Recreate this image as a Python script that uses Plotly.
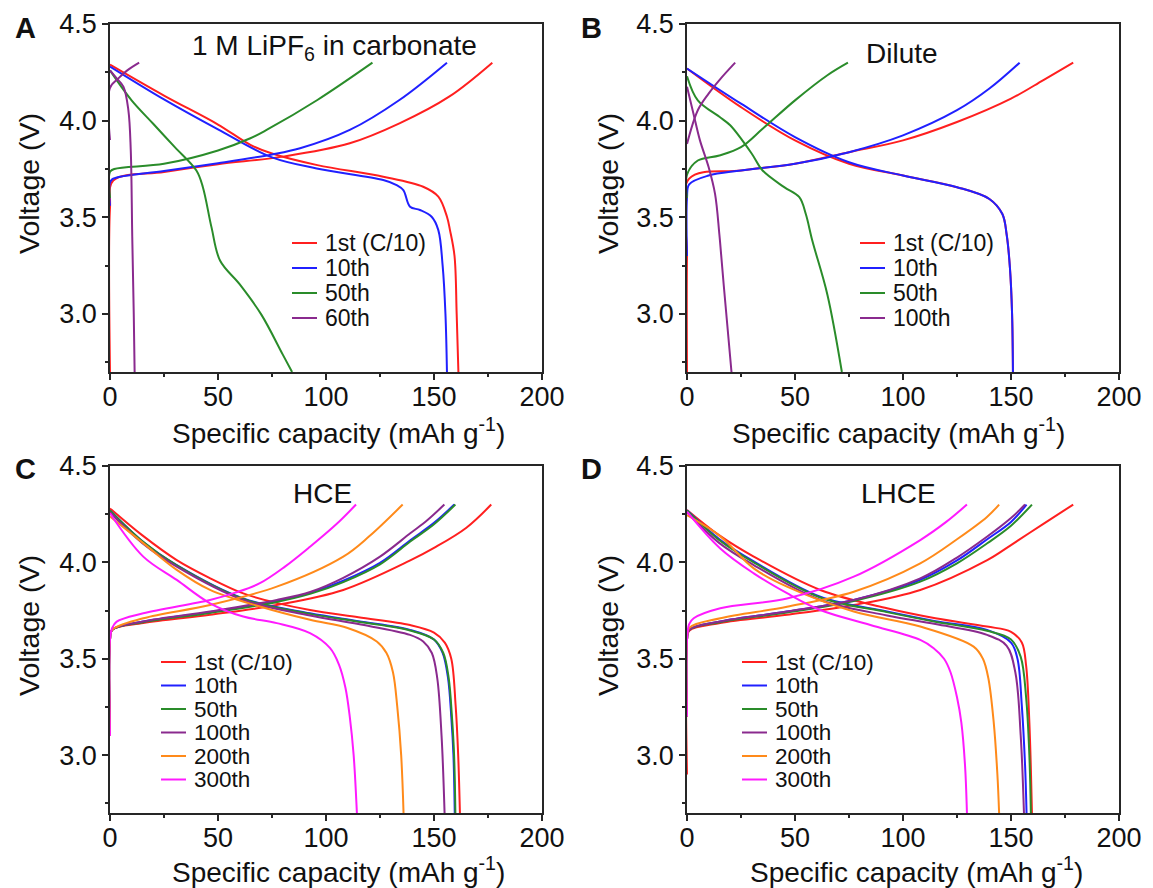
import plotly.graph_objects as go

# the page body has an 8 px margin, so the figure is drawn 8 px in from the corner
W, H = 1145, 880
OFF = 8
FONT = "Arial, Liberation Sans, sans-serif"

COLORS = ["#ff1f1f", "#2020ff", "#2a8c2a", "#8a2a8e", "#ff8a1a", "#ff1aff"]

X_TITLE = "Specific capacity (mAh g<sup>-1</sup>)"
Y_TITLE = "Voltage (V)"

# ---- panel A: 1 M LiPF6 in carbonate ----
A_LABELS = ["1st (C/10)", "10th", "50th", "60th"]
A_CHG_CAP = [
    [0, 0, 1.5, 25, 50, 80, 111, 134, 157, 177],
    [0, 0, 1.5, 25, 50, 75, 88, 111, 134, 156],
    [0, 0, 2, 25, 50, 65, 72.5, 96, 121.5],
    [0, 0, 4, 8, 13.5],
]
A_CHG_V = [
    [2.70, 3.55, 3.69, 3.735, 3.775, 3.814, 3.883, 3.986, 4.124, 4.30],
    [3.56, 3.68, 3.70, 3.74, 3.78, 3.825, 3.857, 3.952, 4.107, 4.30],
    [3.60, 3.735, 3.75, 3.777, 3.846, 3.909, 3.952, 4.107, 4.30],
    [3.90, 4.17, 4.22, 4.26, 4.30],
]
A_DIS_CAP = [
    [0, 25, 50, 65, 75, 96, 126.5, 145, 152, 156, 157.4, 159.5, 160.5, 161.3],
    [0, 25, 50, 75, 95.7, 126.5, 132.7, 135.8, 138.9, 143.5, 148.9, 152, 154, 155.3, 156],
    [0, 10, 20, 30, 40, 43, 47, 51, 60, 70, 80, 84.3],
    [0, 3, 6.2, 8.5, 9.6, 10.3, 11, 11.4],
]
A_DIS_V = [
    [4.29, 4.13, 3.98, 3.875, 3.83, 3.77, 3.71, 3.658, 3.607, 3.503, 3.434, 3.3, 3.0, 2.70],
    [4.28, 4.11, 3.955, 3.81, 3.753, 3.693, 3.667, 3.641, 3.555, 3.538, 3.503, 3.434, 3.25, 3.0, 2.70],
    [4.26, 4.105, 3.984, 3.863, 3.742, 3.656, 3.448, 3.275, 3.154, 2.998, 2.79, 2.70],
    [4.26, 4.22, 4.176, 4.055, 3.85, 3.4, 3.0, 2.70],
]

# ---- panel B: Dilute ----
B_LABELS = ["1st (C/10)", "10th", "50th", "100th"]
B_CHG_CAP = [
    [0, 0, 1, 25, 50, 75, 100, 125, 150, 165, 178.8],
    [0, 0, 1, 10, 25, 50, 75, 100, 125, 140, 154],
    [0, 0, 5, 15, 25, 35, 50, 65, 74.5],
    [0, 5, 10, 15, 22.3],
]
B_CHG_V = [
    [2.70, 3.30, 3.70, 3.742, 3.777, 3.837, 3.898, 3.993, 4.114, 4.21, 4.30],
    [3.30, 3.60, 3.67, 3.716, 3.742, 3.777, 3.837, 3.924, 4.054, 4.166, 4.30],
    [3.60, 3.72, 3.794, 3.82, 3.863, 3.958, 4.105, 4.235, 4.30],
    [3.88, 4.054, 4.14, 4.21, 4.30],
]
B_DIS_CAP = [
    [0, 25, 50, 75, 100, 125, 140, 146, 148, 149.5, 150.5, 150.9],
    [0, 25, 50, 75, 100, 125, 140, 146, 148, 149.5, 150.5, 150.9],
    [0, 5, 15, 20, 30, 35, 45, 52, 55, 58, 65, 71.7],
    [0, 3, 6, 10, 13, 15, 17, 20.6],
]
B_DIS_V = [
    [4.27, 4.07, 3.898, 3.777, 3.716, 3.656, 3.595, 3.517, 3.41, 3.24, 3.0, 2.70],
    [4.27, 4.088, 3.915, 3.785, 3.716, 3.656, 3.595, 3.517, 3.41, 3.24, 3.0, 2.70],
    [4.23, 4.105, 4.02, 3.976, 3.829, 3.742, 3.656, 3.604, 3.517, 3.38, 3.10, 2.70],
    [4.175, 4.036, 3.898, 3.76, 3.62, 3.41, 3.15, 2.70],
]

# ---- panel C: HCE ----
C_LABELS = ["1st (C/10)", "10th", "50th", "100th", "200th", "300th"]
C_CHG_CAP = [
    [0, 0, 1, 15.4, 46.3, 77.2, 108, 139, 150, 165, 176.5],
    [0, 0, 1, 15.4, 46.3, 77.2, 93, 108, 125, 139, 150, 159.4],
    [0, 0, 1, 15.4, 46.3, 77.2, 93, 108, 125, 139, 150, 159.9],
    [0, 0, 1, 15.4, 46.3, 77.2, 93, 108, 125, 139, 147, 154.8],
    [0, 0, 1, 15.4, 46.3, 77.2, 108, 120, 135.5],
    [0, 0, 1, 3.1, 15.4, 46.3, 58, 69.4, 81, 92.6, 105, 113.9],
]
C_CHG_V = [
    [3.10, 3.60, 3.65, 3.685, 3.728, 3.779, 3.857, 4.01, 4.075, 4.18, 4.30],
    [3.10, 3.60, 3.65, 3.693, 3.742, 3.80, 3.843, 3.905, 3.998, 4.115, 4.205, 4.30],
    [3.10, 3.60, 3.65, 3.69, 3.738, 3.795, 3.838, 3.898, 3.99, 4.108, 4.198, 4.30],
    [3.10, 3.60, 3.65, 3.693, 3.745, 3.805, 3.848, 3.92, 4.03, 4.151, 4.22, 4.30],
    [3.10, 3.60, 3.65, 3.71, 3.779, 3.874, 4.03, 4.135, 4.30],
    [3.10, 3.60, 3.66, 3.693, 3.736, 3.805, 3.843, 3.892, 3.978, 4.081, 4.20, 4.30],
]
C_DIS_CAP = [
    [0, 15, 30.9, 46, 61.7, 77, 92.6, 115, 138.9, 150, 155, 158, 160, 161.2, 162],
    [0, 15, 30.9, 61.7, 92.6, 115, 138.9, 150, 154, 156.5, 158, 159, 159.6],
    [0, 15, 30.9, 61.7, 92.6, 115, 138.9, 150, 154.3, 156.8, 158.3, 159.3, 159.9],
    [0, 15, 30.9, 61.7, 92.6, 115, 138.9, 145, 149, 151.5, 153.5, 154.9],
    [0, 15.4, 30.9, 46.3, 69.4, 92.6, 110, 123.5, 128, 131, 133, 134.8, 135.9],
    [0, 15.4, 30.9, 46.3, 61.7, 77.2, 92.6, 101.9, 106, 109, 111, 112.8, 114.3],
]
C_DIS_V = [
    [4.28, 4.14, 4.012, 3.92, 3.839, 3.79, 3.753, 3.715, 3.675, 3.636, 3.584, 3.50, 3.26, 3.0, 2.70],
    [4.27, 4.11, 3.986, 3.813, 3.736, 3.695, 3.65, 3.60, 3.53, 3.40, 3.2, 3.0, 2.70],
    [4.27, 4.11, 3.984, 3.81, 3.733, 3.692, 3.647, 3.60, 3.53, 3.40, 3.2, 3.0, 2.70],
    [4.26, 4.10, 3.978, 3.805, 3.725, 3.68, 3.624, 3.59, 3.53, 3.40, 3.10, 2.70],
    [4.238, 4.10, 3.961, 3.857, 3.771, 3.702, 3.66, 3.59, 3.53, 3.43, 3.25, 3.0, 2.70],
    [4.255, 4.03, 3.909, 3.788, 3.719, 3.685, 3.633, 3.555, 3.47, 3.35, 3.2, 3.0, 2.70],
]

# ---- panel D: LHCE ----
D_LABELS = ["1st (C/10)", "10th", "50th", "100th", "200th", "300th"]
D_CHG_CAP = [
    [0, 0, 1, 15.4, 46.3, 77.2, 108, 139, 150, 165, 178.8],
    [0, 0, 1, 15.4, 46.3, 77.2, 108, 125, 139, 150, 157.2],
    [0, 0, 1, 15.4, 46.3, 77.2, 108, 125, 139, 150, 159.7],
    [0, 0, 1, 15.4, 46.3, 77.2, 108, 125, 139, 150, 156.5],
    [0, 0, 1, 15.4, 46.3, 77.2, 108, 125, 139, 144.5],
    [0, 0, 1, 3.1, 15.4, 46.3, 77.2, 108, 120, 129.6],
]
D_CHG_V = [
    [2.90, 3.60, 3.645, 3.685, 3.728, 3.779, 3.857, 4.012, 4.09, 4.20, 4.30],
    [3.20, 3.60, 3.65, 3.693, 3.745, 3.805, 3.91, 4.01, 4.12, 4.21, 4.30],
    [3.20, 3.60, 3.65, 3.69, 3.74, 3.80, 3.90, 3.995, 4.099, 4.19, 4.30],
    [3.20, 3.60, 3.65, 3.693, 3.745, 3.805, 3.917, 4.025, 4.134, 4.23, 4.30],
    [3.20, 3.60, 3.66, 3.71, 3.77, 3.848, 3.995, 4.12, 4.237, 4.30],
    [3.20, 3.60, 3.68, 3.71, 3.762, 3.813, 3.926, 4.116, 4.21, 4.30],
]
D_DIS_CAP = [
    [0, 15, 30.9, 61.7, 92.6, 115, 138.9, 150, 155, 157, 158.5, 159.7],
    [0, 15, 30.9, 61.7, 92.6, 115, 138.9, 150, 153, 155, 156.5, 157.2],
    [0, 15, 30.9, 61.7, 92.6, 115, 138.9, 150, 154.5, 157, 158.5, 159.2],
    [0, 15, 30.9, 61.7, 92.6, 115, 138.9, 148, 152, 154.5, 156],
    [0, 15.4, 30.9, 46.3, 77.2, 108, 132.7, 137, 139.5, 142, 143.7, 144.5],
    [0, 15.4, 30.9, 46.3, 61.7, 84.9, 108, 114.2, 119, 122, 125, 127, 128.7, 129.6],
]
D_DIS_V = [
    [4.272, 4.14, 4.03, 3.857, 3.762, 3.71, 3.667, 3.64, 3.584, 3.464, 3.17, 2.70],
    [4.27, 4.12, 4.005, 3.822, 3.745, 3.695, 3.65, 3.584, 3.50, 3.257, 2.95, 2.70],
    [4.27, 4.115, 4.0, 3.818, 3.742, 3.692, 3.645, 3.60, 3.51, 3.30, 3.0, 2.70],
    [4.26, 4.10, 3.986, 3.805, 3.725, 3.68, 3.624, 3.567, 3.43, 3.10, 2.70],
    [4.245, 4.135, 3.969, 3.874, 3.745, 3.667, 3.563, 3.50, 3.40, 3.17, 2.90, 2.70],
    [4.263, 4.072, 3.943, 3.84, 3.753, 3.675, 3.598, 3.555, 3.50, 3.43, 3.30, 3.17, 2.95, 2.70],
]

PANELS = [
    ("A", "1 M LiPF<sub>6</sub> in carbonate", A_LABELS, A_CHG_CAP, A_CHG_V, A_DIS_CAP, A_DIS_V),
    ("B", "Dilute", B_LABELS, B_CHG_CAP, B_CHG_V, B_DIS_CAP, B_DIS_V),
    ("C", "HCE", C_LABELS, C_CHG_CAP, C_CHG_V, C_DIS_CAP, C_DIS_V),
    ("D", "LHCE", D_LABELS, D_CHG_CAP, D_CHG_V, D_DIS_CAP, D_DIS_V),
]

# window-pixel layout of the four frames: (left, right, top, bottom)
FRAMES = [(110, 542, 24, 372), (687, 1119, 24, 372), (110, 542, 466, 813), (687, 1119, 466, 813)]
TITLE_POS = [(334, 48), (902, 53), (322, 493), (898, 493)]
LETTER_POS = [(25, 28), (591, 28), (25, 469), (591, 469)]
XTITLE_POS = [(338, 431), (898, 431), (338, 870), (916, 870)]
YTITLE_POS = [(29, 184), (608, 184), (29, 626), (608, 626)]
# legend: x of line start, y of first row, row gap, font size
LEGEND_POS = [(292, 243, 25, 23), (860, 243, 25, 23), (161, 662, 23.5, 22.5), (742, 662, 23.5, 22.5)]


def px(x):
    return (x - OFF) / W


def py(y):
    return 1 - (y - OFF) / H


def text_at(text, x, y, size, anchor="center", angle=0):
    return dict(text=text, x=px(x), y=py(y), xref="paper", yref="paper", showarrow=False,
                xanchor=anchor, yanchor="middle", textangle=angle,
                font=dict(family=FONT, size=size, color="#111"))


fig = go.Figure()
shapes = []
annotations = []

for i, (letter, title, labels, ccap, cv, dcap, dv) in enumerate(PANELS):
    n = i + 1
    xa = "x" if n == 1 else f"x{n}"
    ya = "y" if n == 1 else f"y{n}"
    for k, lab in enumerate(labels):
        col = COLORS[k]
        for cap, v in ((ccap[k], cv[k]), (dcap[k], dv[k])):
            fig.add_trace(go.Scatter(
                x=cap, y=v, mode="lines", name=lab, showlegend=False,
                line=dict(color=col, width=2, shape="spline", smoothing=1.0),
                xaxis=xa, yaxis=ya, hoverinfo="skip"))

    l, r, t, b = FRAMES[i]
    axis_common = dict(
        showline=True, linecolor="#262626", linewidth=1.5, mirror=True,
        ticks="outside", ticklen=6, tickwidth=1.5, tickcolor="#262626",
        showgrid=False, zeroline=False, automargin=False,
        tickfont=dict(family=FONT, size=27, color="#111"),
    )
    fig.layout[f"xaxis{'' if n == 1 else n}"] = dict(
        axis_common, domain=[px(l), px(r)], anchor=ya, range=[0, 200], dtick=50,
        ticklabelstandoff=-6,
        minor=dict(dtick=25, ticks="outside", ticklen=3, tickcolor="#262626"),
    )
    fig.layout[f"yaxis{'' if n == 1 else n}"] = dict(
        axis_common, domain=[py(b), py(t)], anchor=xa, range=[2.7, 4.5], dtick=0.5,
        tickformat=".1f",
        minor=dict(dtick=0.25, ticks="outside", ticklen=3, tickcolor="#262626"),
    )

    annotations.append(text_at(X_TITLE, *XTITLE_POS[i], 28))
    annotations.append(text_at(Y_TITLE, *YTITLE_POS[i], 28.5, angle=-90))
    annotations.append(text_at(title, *TITLE_POS[i], 28))
    annotations.append(text_at(f"<b>{letter}</b>", *LETTER_POS[i], 29))

    # legend: short coloured line + label per row
    gx, gy, gap, fs = LEGEND_POS[i]
    for k, lab in enumerate(labels):
        yy = gy + k * gap
        shapes.append(dict(type="line", xref="paper", yref="paper",
                           x0=px(gx), x1=px(gx + 25), y0=py(yy), y1=py(yy),
                           line=dict(color=COLORS[k], width=2)))
        annotations.append(text_at(lab, gx + 31, yy, fs, anchor="left"))

fig.update_layout(
    width=W, height=H,
    margin=dict(l=0, r=0, t=0, b=0),
    paper_bgcolor="white", plot_bgcolor="white",
    showlegend=False,
    shapes=shapes, annotations=annotations,
    font=dict(family=FONT, color="#111"),
)

fig.write_html("out.html")
